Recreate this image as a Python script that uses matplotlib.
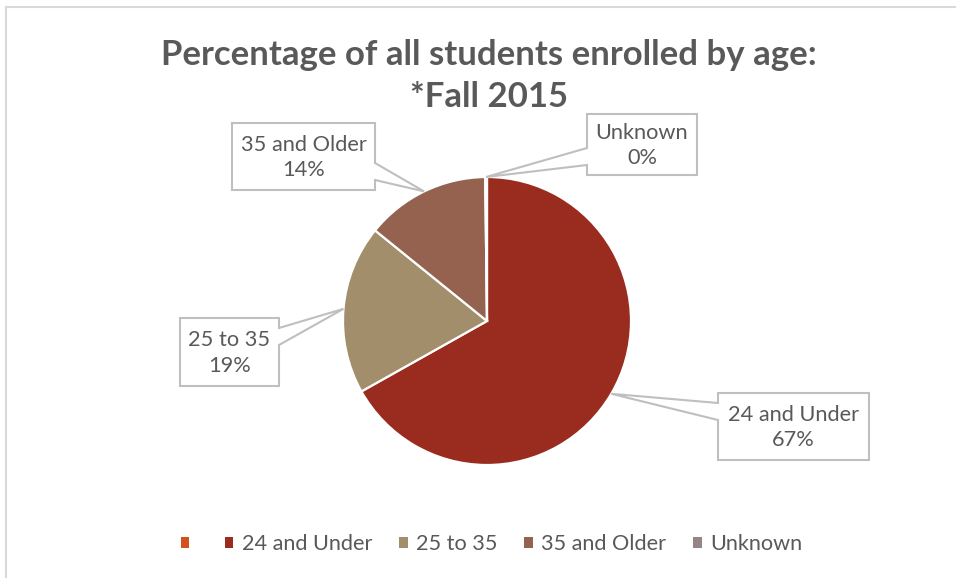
import matplotlib
matplotlib.use("Agg")
import matplotlib.pyplot as plt
from matplotlib.patches import Polygon, Patch
from matplotlib.lines import Line2D
import numpy as np

# ---- data ----
categories = ["", "24 and Under", "25 to 35", "35 and Older", "Unknown"]
values = [0.0, 67.0, 19.0, 14.0, 0.2]
colors = ["#D4501D", "#9A2C1F", "#A38E6B", "#956250", "#958587"]
title_text = "Percentage of all students enrolled by age:\n*Fall 2015"

# ---- layout (pixels, y from top) ----
W, H = 956, 578
center = (487, 321)
radius_px = 144
boxes = {  # left, top, right, bottom
    "24 and Under": (718, 393, 869, 460),
    "25 to 35": (180, 318, 279, 386),
    "35 and Older": (232, 123, 375, 190),
    "Unknown": (587, 114, 697, 175),
}
text_color = "#595959"
font = ["Lato", "DejaVu Sans"]

fig = plt.figure(figsize=(W / 100, H / 100), dpi=100)
fig.patch.set_facecolor("white")

ax = fig.add_axes([(center[0] - radius_px) / W, (H - center[1] - radius_px) / H,
                   2 * radius_px / W, 2 * radius_px / H])
wedges, _ = ax.pie(values, colors=colors, startangle=90, counterclock=False,
                   radius=1.0, wedgeprops=dict(edgecolor="white", linewidth=1.6))
ax.set_xlim(-1, 1)
ax.set_ylim(-1, 1)
ax.set_aspect("equal")
ax.axis("off")

ov = fig.add_axes([0, 0, 1, 1], zorder=3)
ov.set_xlim(0, W)
ov.set_ylim(H, 0)
ov.axis("off")
ov.patch.set_alpha(0)

# frame lines (top and left only, as in the reference crop)
ov.add_line(Line2D([6.5, W], [6.5, 6.5], color="#D9D9D9", lw=1.5))
ov.add_line(Line2D([6.5, 6.5], [6.5, H], color="#D9D9D9", lw=1.5))

total = sum(values)
fig.canvas.draw()
inv = ov.transData.inverted()
for w, name, v in zip(wedges, categories, values):
    if not name:
        continue
    mid = np.deg2rad((w.theta1 + w.theta2) / 2)
    tip = inv.transform(ax.transData.transform((np.cos(mid), np.sin(mid))))
    l, t, r, b = boxes[name]
    half = 8.5
    c = np.clip(tip[1], t + 10 + half, b - 10 - half)
    if tip[0] > r:
        pts = [(l, t), (r, t), (r, c - half), tuple(tip), (r, c + half), (r, b), (l, b)]
    else:
        pts = [(l, t), (r, t), (r, b), (l, b), (l, c + half), tuple(tip), (l, c - half)]
    ov.add_patch(Polygon(pts, closed=True, facecolor="white", edgecolor="#BFBFBF",
                         lw=1.5, joinstyle="miter"))
    pct = round(v / total * 100)
    ov.text((l + r) / 2, (t + b) / 2 + 1, f"{name}\n{pct}%", ha="center", va="center",
            fontsize=15.7, color=text_color, family=font, linespacing=1.32)

fig.text(489 / W, 1 - 76 / H, title_text, ha="center", va="center", fontsize=25,
         fontweight="bold", color=text_color, family=font, linespacing=1.42)

handles = [Patch(facecolor=c, edgecolor="none") for c in colors]
leg = fig.legend(handles, categories, loc="center", bbox_to_anchor=(491.5 / W, 1 - 544 / H),
                 ncol=5, frameon=False, handlelength=0.4, handleheight=0.4,
                 handletextpad=0.38, columnspacing=1.25, borderpad=0, borderaxespad=0,
                 prop=dict(family=font, size=15.6))
for txt in leg.get_texts():
    txt.set_color(text_color)

fig.savefig("out.png", dpi=100, facecolor="white")
